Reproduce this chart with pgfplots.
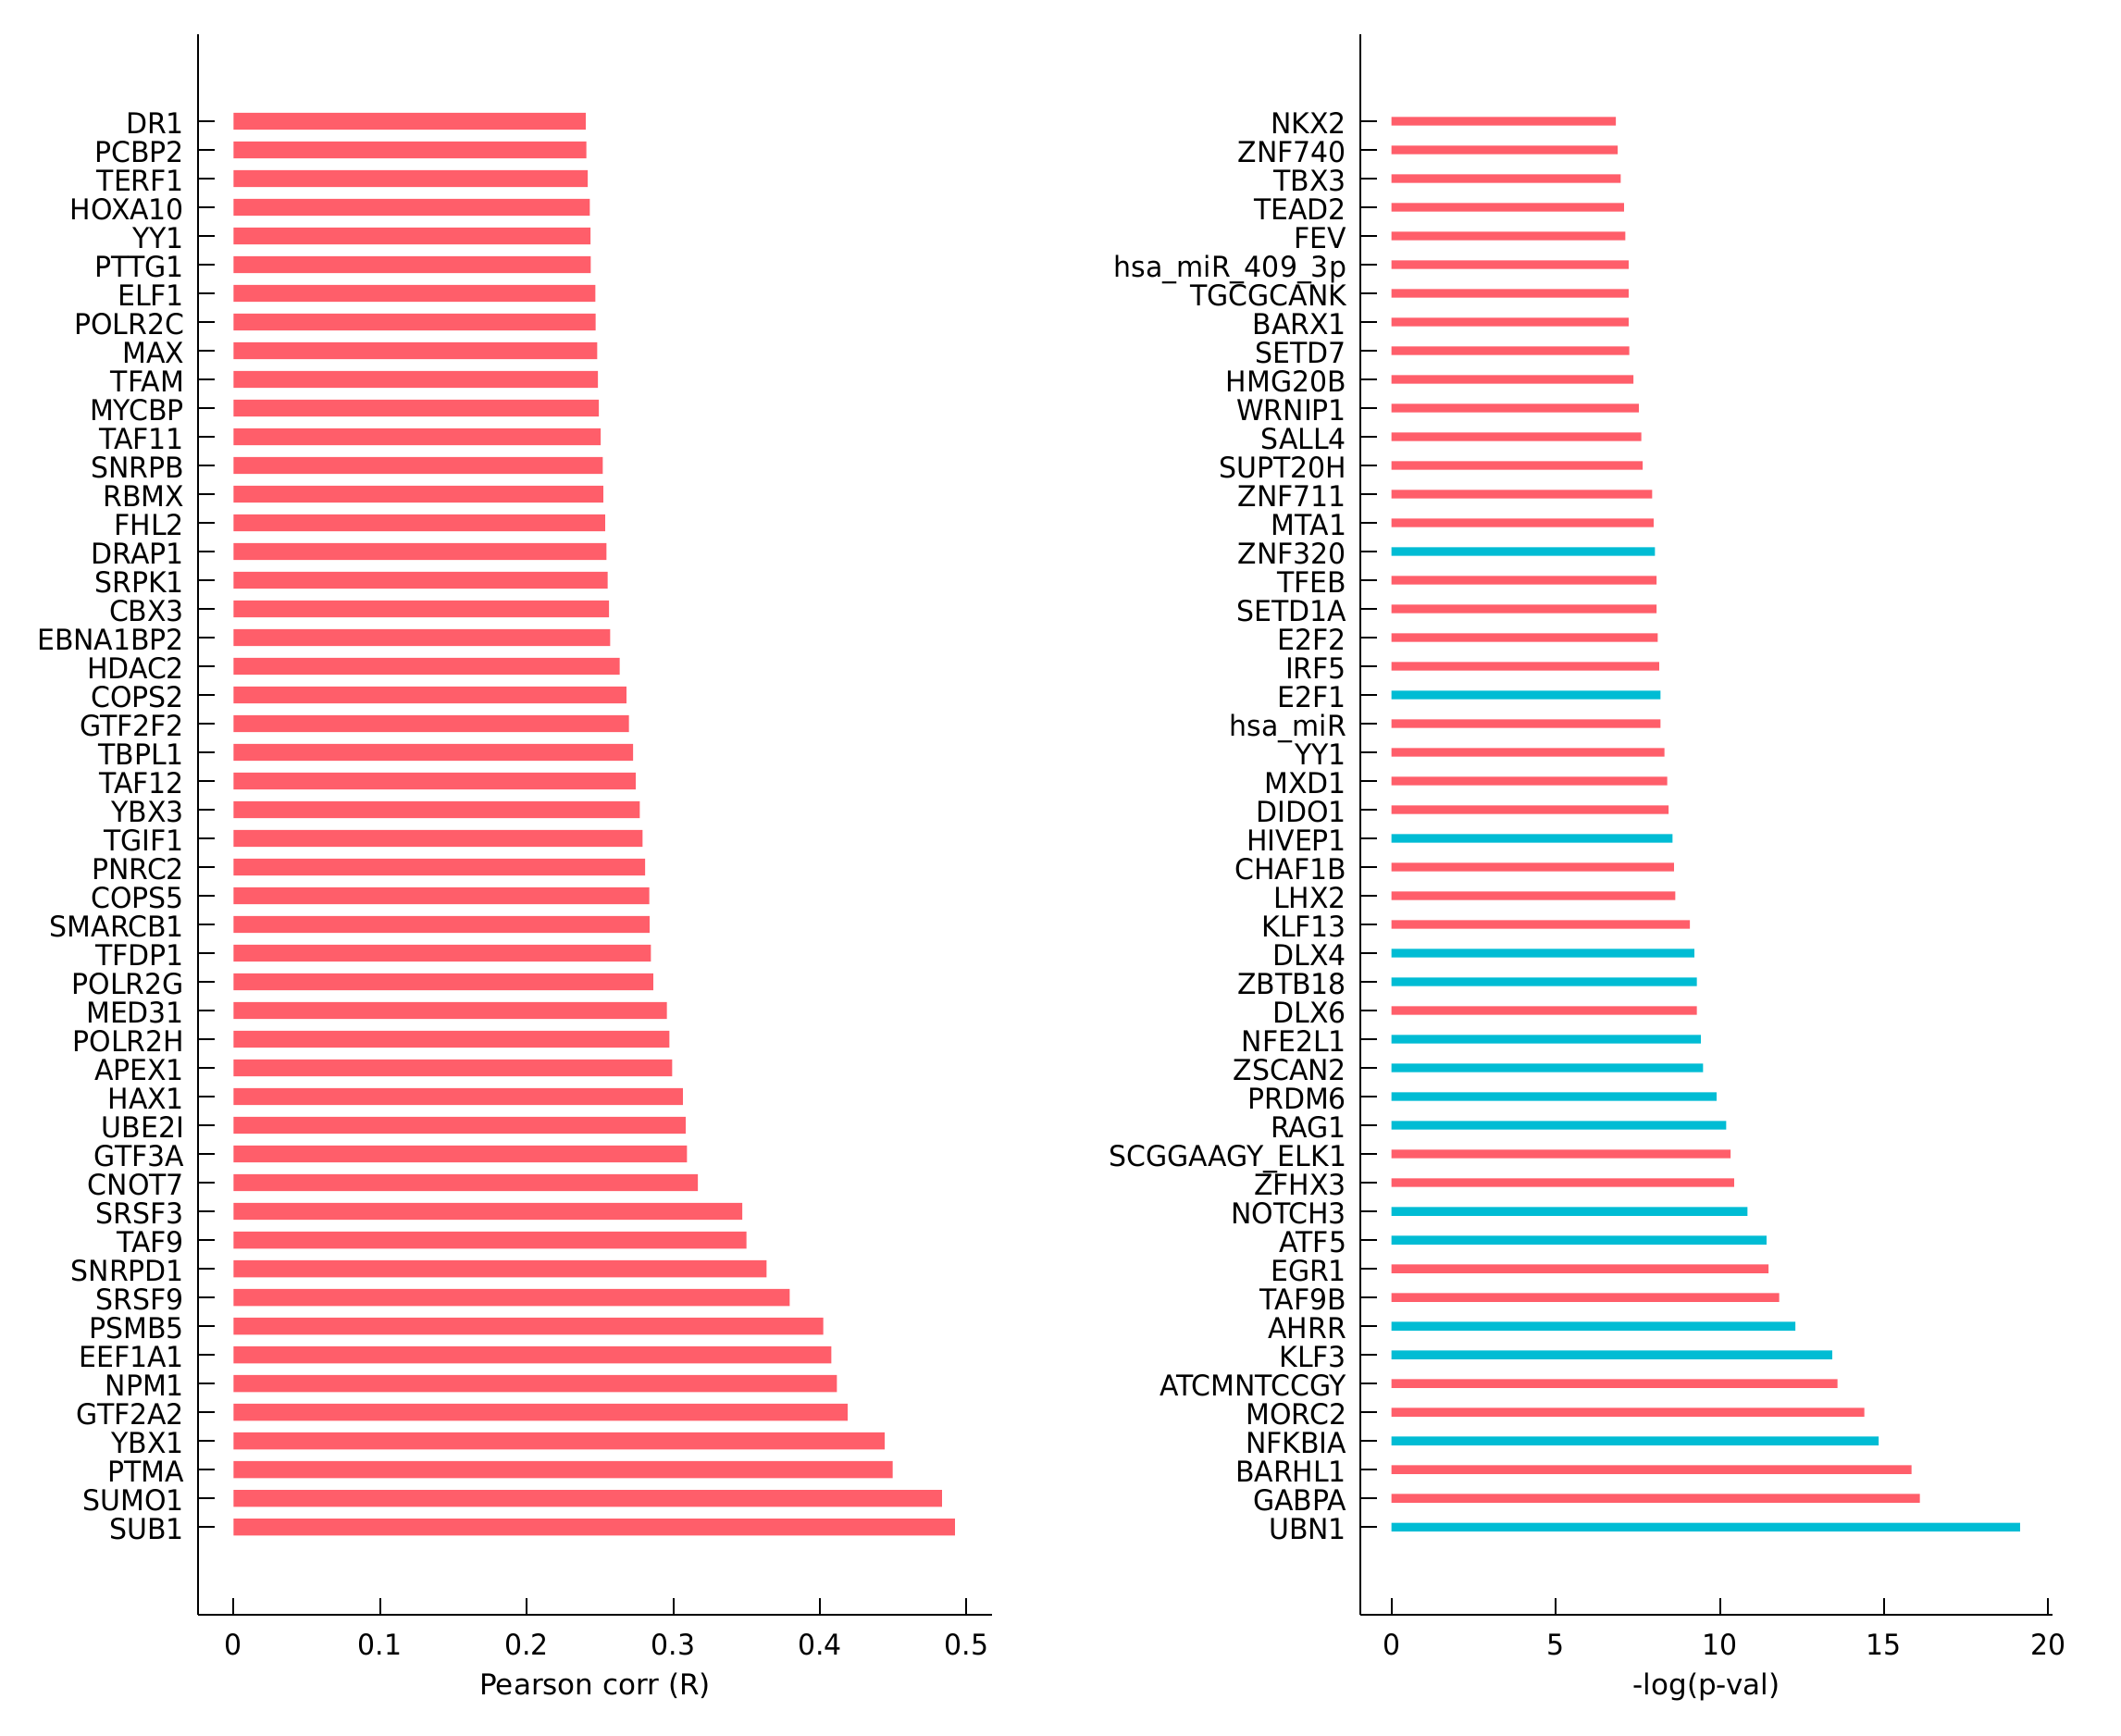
\documentclass[border=0pt]{standalone}
\usepackage{fontspec}
\setmainfont{DejaVu Sans}[FakeStretch=0.965]
\newfontfamily\labelfont{DejaVu Sans}
\usepackage{pgfplots}
\pgfplotsset{compat=1.18}
\definecolor{barred}{RGB}{255,94,106}
\definecolor{barblue}{RGB}{0,188,212}
\begin{document}
\begin{tikzpicture}[font=\fontsize{9.3}{11}\selectfont]
\useasboundingbox (0,0) rectangle (687.6pt,562.5pt);
\pgfplotsset{
  common/.style={
    scale only axis,
    anchor=south west,
    height=512.5pt,
    ymin=-3.07, ymax=52.03,
    axis x line*=bottom, axis y line*=left,
    tick pos=left,
    axis line style={-, line width=0.6pt},
    major tick style={line width=0.6pt, black},
    major tick length=5.4pt,
    tick align=inside,
    ytick={0,...,49},
    /pgf/number format/assume math mode=true,
    xticklabel style={anchor=base, yshift=-13.0pt, inner sep=0pt},
    yticklabel style={anchor=base east, xshift=-4.4pt, yshift=-4.0pt, inner sep=0pt},
    xlabel style={at={(axis description cs:0.5,0)}, anchor=base, yshift=-25.9pt, inner sep=0pt, font=\labelfont\fontsize{9.3}{11}\selectfont},
  }
}
\begin{axis}[common, at={(64.3pt,38.9pt)}, width=257.3pt,
  xmin=-0.024, xmax=0.5175,
  xtick={0,0.1,0.2,0.3,0.4,0.5}, xticklabels={0,0.1,0.2,0.3,0.4,0.5},
  yticklabels={SUB1,SUMO1,PTMA,YBX1,GTF2A2,NPM1,EEF1A1,PSMB5,SRSF9,SNRPD1,TAF9,SRSF3,CNOT7,GTF3A,UBE2I,HAX1,APEX1,POLR2H,MED31,POLR2G,TFDP1,SMARCB1,COPS5,PNRC2,TGIF1,YBX3,TAF12,TBPL1,GTF2F2,COPS2,HDAC2,EBNA1BP2,CBX3,SRPK1,DRAP1,FHL2,RBMX,SNRPB,TAF11,MYCBP,TFAM,MAX,POLR2C,ELF1,PTTG1,YY1,HOXA10,TERF1,PCBP2,DR1},
  xlabel={Pearson corr (R)}]
\addplot[xbar, bar shift=0pt, bar width=0.59, fill=barred, draw=none] coordinates {
(0.4922,0) (0.4834,1) (0.4497,2) (0.4442,3) (0.4190,4) (0.4116,5) (0.4079,6) (0.4024,7) (0.3794,8) (0.3637,9)
(0.3499,10) (0.3471,11) (0.3168,12) (0.3094,13) (0.3085,14) (0.3066,15) (0.2993,16) (0.2974,17) (0.2956,18) (0.2864,19)
(0.2848,20) (0.2838,21) (0.2836,22) (0.2808,23) (0.2790,24) (0.2772,25) (0.2744,26) (0.2726,27) (0.2698,28) (0.2680,29)
(0.2634,30) (0.2570,31) (0.2562,32) (0.2553,33) (0.2545,34) (0.2535,35) (0.2522,36) (0.2520,37) (0.2505,38) (0.2493,39)
(0.2486,40) (0.2482,41) (0.2470,42) (0.2468,43) (0.2437,44) (0.2435,45) (0.2431,46) (0.2417,47) (0.2408,48) (0.2403,49)
};
\end{axis}
\begin{axis}[common, at={(441.1pt,38.9pt)}, width=224.2pt,
  xmin=-0.941, xmax=20.124,
  xtick={0,5,10,15,20}, xticklabels={0,5,10,15,20},
  yticklabels={UBN1,GABPA,BARHL1,NFKBIA,MORC2,ATCMNTCCGY,KLF3,AHRR,TAF9B,EGR1,ATF5,NOTCH3,ZFHX3,SCGGAAGY\_ELK1,RAG1,PRDM6,ZSCAN2,NFE2L1,DLX6,ZBTB18,DLX4,KLF13,LHX2,CHAF1B,HIVEP1,DIDO1,MXD1,YY1,hsa\_miR,E2F1,IRF5,E2F2,SETD1A,TFEB,ZNF320,MTA1,ZNF711,SUPT20H,SALL4,WRNIP1,HMG20B,SETD7,BARX1,TGCGCANK,hsa\_miR\_409\_3p,FEV,TEAD2,TBX3,ZNF740,NKX2},
  xlabel={-log(p-val)}]
\addplot[xbar, bar shift=0pt, bar width=0.3, fill=barred, draw=none] coordinates {
(16.09,1) (15.84,2) (14.40,4) (13.58,5) (11.81,8) (11.48,9) (10.43,12) (10.33,13) (9.30,18) (9.09,21)
(8.64,22) (8.60,23) (8.44,25) (8.40,26) (8.31,27) (8.19,28) (8.15,30) (8.11,31) (8.07,32) (8.07,33)
(7.98,35) (7.94,36) (7.65,37) (7.61,38) (7.53,39) (7.37,40) (7.24,41) (7.22,42) (7.22,43) (7.22,44)
(7.12,45) (7.08,46) (6.98,47) (6.89,48) (6.83,49)
};
\addplot[xbar, bar shift=0pt, bar width=0.3, fill=barblue, draw=none] coordinates {
(19.14,0) (14.84,3) (13.42,6) (12.30,7) (11.42,10) (10.84,11) (10.19,14) (9.90,15) (9.49,16) (9.42,17)
(9.30,19) (9.22,20) (8.56,24) (8.19,29) (8.02,34)
};
\end{axis}
\end{tikzpicture}
\end{document}
